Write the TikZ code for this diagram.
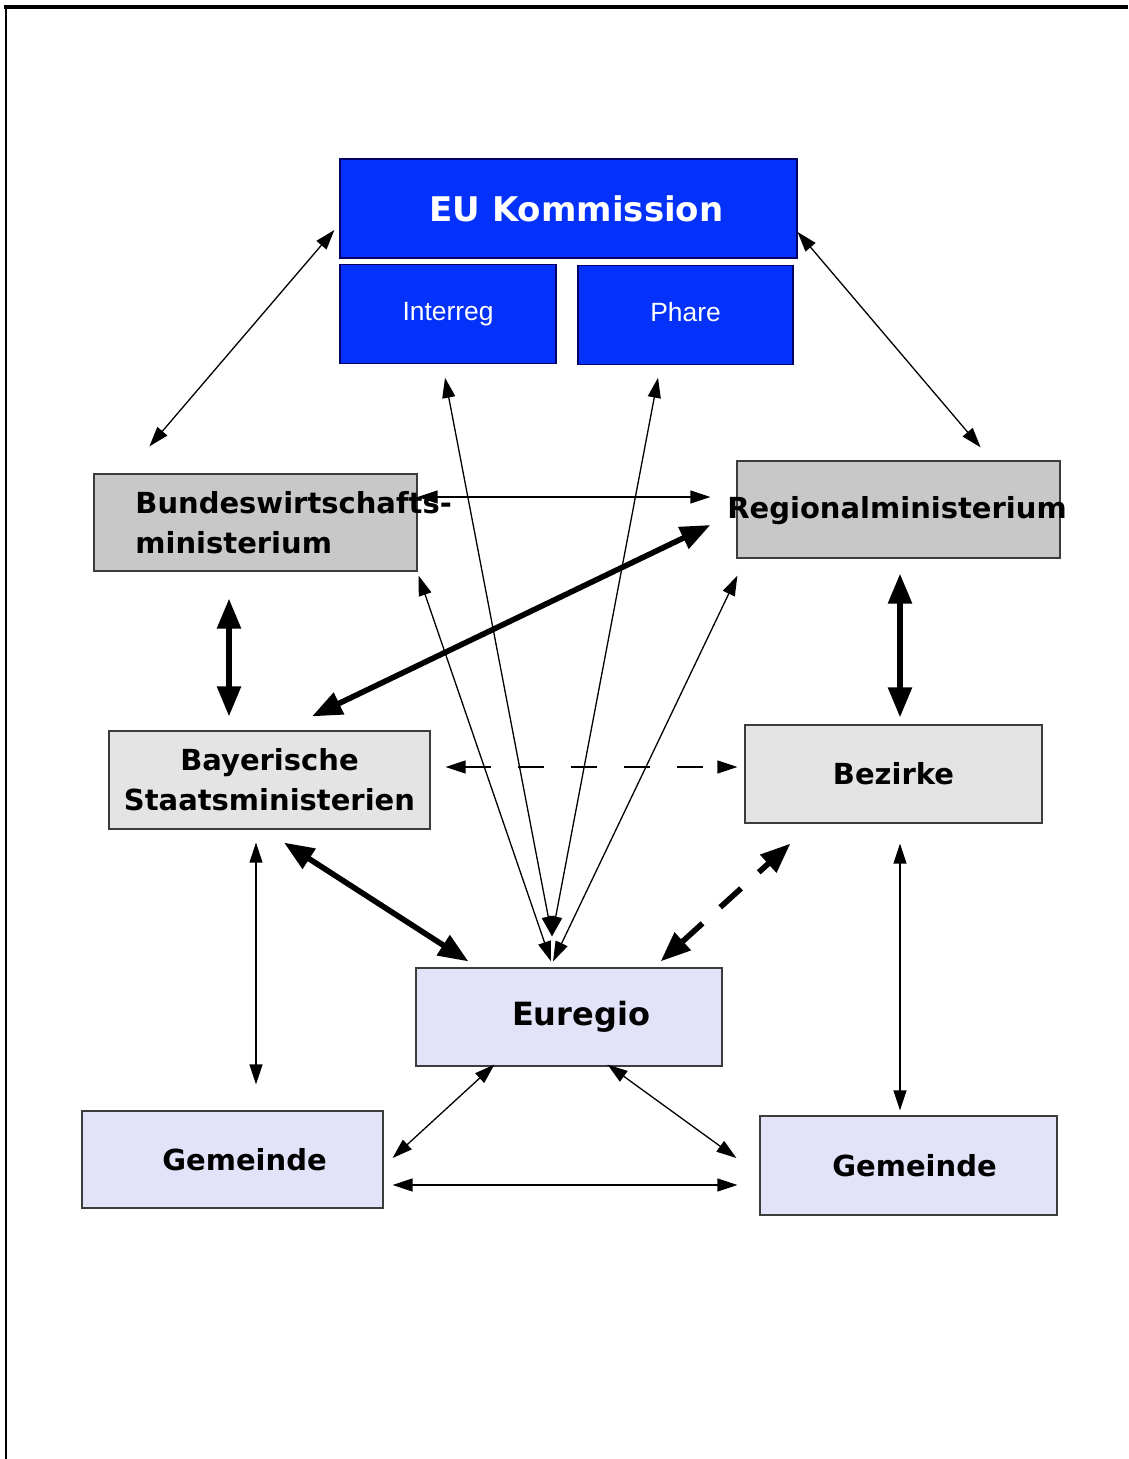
\documentclass[tikz,border=0pt]{standalone}
\usepackage{fontspec}
\setmainfont{DejaVu Sans}
\newfontfamily\progfont{Liberation Sans}
\usetikzlibrary{arrows.meta, positioning}
\definecolor{eublue}{RGB}{5,50,250}
\definecolor{midgray}{RGB}{200,200,200}
\definecolor{palegray}{RGB}{228,228,228}
\definecolor{lavender}{RGB}{226,226,248}
\definecolor{edgegray}{RGB}{60,60,60}
\tikzset{
    block/.style={rectangle, draw=edgegray, line width=0.6pt, align=center, inner sep=0pt},
    eublock/.style={block, draw=black!60!blue, fill=eublue, text=white},
    ministry/.style={block, fill=midgray, minimum width=161.5pt, minimum height=48.5pt},
    office/.style={block, fill=palegray, minimum height=49pt},
    local/.style={block, fill=lavender},
    boxtext/.style={font=\bfseries\fontsize{14.5}{20}\selectfont},
    progtext/.style={font=\progfont\fontsize{13.2}{16}\selectfont, text height=9.5pt, text depth=3pt},
    link/.style={line width=0.65pt, {Triangle[length=10pt,width=6.5pt]}-{Triangle[length=10pt,width=6.5pt]}},
    strong/.style={line width=2.8pt, {Triangle[length=15pt,width=11.5pt]}-{Triangle[length=15pt,width=11.5pt]}},
    dashlink/.style={link, dash pattern=on 13pt off 13.5pt},
    strongdash/.style={strong, dash pattern=on 14pt off 12pt}
}
\begin{document}
\begin{tikzpicture}[x=0.5pt, y=-0.5pt]
    \path[use as bounding box] (0,0) rectangle (1128,1459);
    % page frame
    \draw[line width=1pt] (6,1459) -- (6,7);
    \draw[line width=1.8pt] (4,7) -- (1128,7);

    % EU level
    \node[eublock, minimum width=228.5pt, minimum height=49.5pt, font=\bfseries\fontsize{17}{20}\selectfont] (eu) at (568.5,208.5) {\hspace*{8pt}EU Kommission};
    \node[eublock, progtext, minimum width=108pt, minimum height=49.5pt, below right=2.5pt and 0pt of eu.south west] (interreg) {Interreg};
    \node[eublock, progtext, minimum width=107.5pt, minimum height=49.5pt, below left=3pt and 2pt of eu.south east] (phare) {Phare};

    % ministries
    \node[ministry] (bund) at (255.5,522.5) {};
    \node[boxtext, anchor=west, align=left, inner sep=0pt] (bundtext) at (135,523) {Bundeswirtschafts-\\ministerium};
    \node[ministry] (regio) at (898.5,509.5) {};
    \node[boxtext, inner sep=0pt] (regiotext) at (897,511) {Regionalministerium};
    \node[office, boxtext, minimum width=160.5pt] (bay) at (269.5,780) {Bayerische\\Staatsministerien};
    \node[office, boxtext, minimum width=148.5pt] (bez) at (893.5,774) {Bezirke};

    % regional level
    \node[local, minimum width=153pt, minimum height=49pt, font=\bfseries\fontsize{16}{20}\selectfont] (euregio) at (569,1017) {\hspace*{12pt}Euregio};
    \node[local, boxtext, minimum width=150.5pt, minimum height=48.5pt] (gemL) at (232.5,1159.5) {\hspace*{12pt}Gemeinde};
    \node[local, boxtext, minimum width=148.5pt, minimum height=49.5pt] (gemR) at (908.5,1165.5) {\hspace*{6pt}Gemeinde};

    % connectors
    \draw[link] ([shift={(-5,21.5)}]eu.west) -- ([shift={(56,-27)}]bund.north west);
    \draw[link] ([shift={(0,23.5)}]eu.east) -- ([shift={(-80,-13)}]regio.north east);
    \draw[link] ([shift={(0,-25.5)}]bund.east) -- ([shift={(-26,-12.5)}]regio.west);
    \draw[strong] ([shift={(-26,15.5)}]regio.west) -- ([shift={(42.5,-14)}]bay.north);
    \draw[strong] ([shift={(-26.5,27)}]bund.south) -- ([shift={(-40.5,-14)}]bay.north);
    \draw[strong] ([shift={(1.5,15)}]regio.south) -- ([shift={(6.5,-7)}]bez.north);
    \draw[dashlink] ([shift={(15,-13)}]bay.east) -- ([shift={(-7,-7)}]bez.west);
    \draw[strong] ([shift={(14.5,13)}]bay.south) -- ([shift={(53,-6)}]euregio.north west);
    \draw[strongdash] ([shift={(-62,-6)}]euregio.north east) -- ([shift={(46,20)}]bez.south west);
    \draw[link] ([shift={(-13.5,13)}]bay.south) -- ([shift={(23.5,-26)}]gemL.north);
    \draw[link] ([shift={(6.5,20)}]bez.south) -- ([shift={(-8.5,-5)}]gemR.north);
    \draw[link] ([shift={(79,-2)}]euregio.south west) -- ([shift={(9,-1.5)}]gemL.east);
    \draw[link] ([shift={(-115,-2)}]euregio.south east) -- ([shift={(-23,-7.5)}]gemR.west);
    \draw[link] ([shift={(9,25.5)}]gemL.east) -- ([shift={(-22,19.5)}]gemR.west);

    % fan into Euregio
    \draw[link] ([shift={(-3,14)}]interreg.south) -- ([shift={(-17,-31)}]euregio.north);
    \draw[link] ([shift={(-27.5,13)}]phare.south) -- ([shift={(-17,-31)}]euregio.north);
    \draw[link] ([shift={(1,4)}]bund.south east) -- ([shift={(-18,-6)}]euregio.north);
    \draw[link] ([shift={(1,17)}]regio.south west) -- ([shift={(-16,-6)}]euregio.north);
\end{tikzpicture}
\end{document}
